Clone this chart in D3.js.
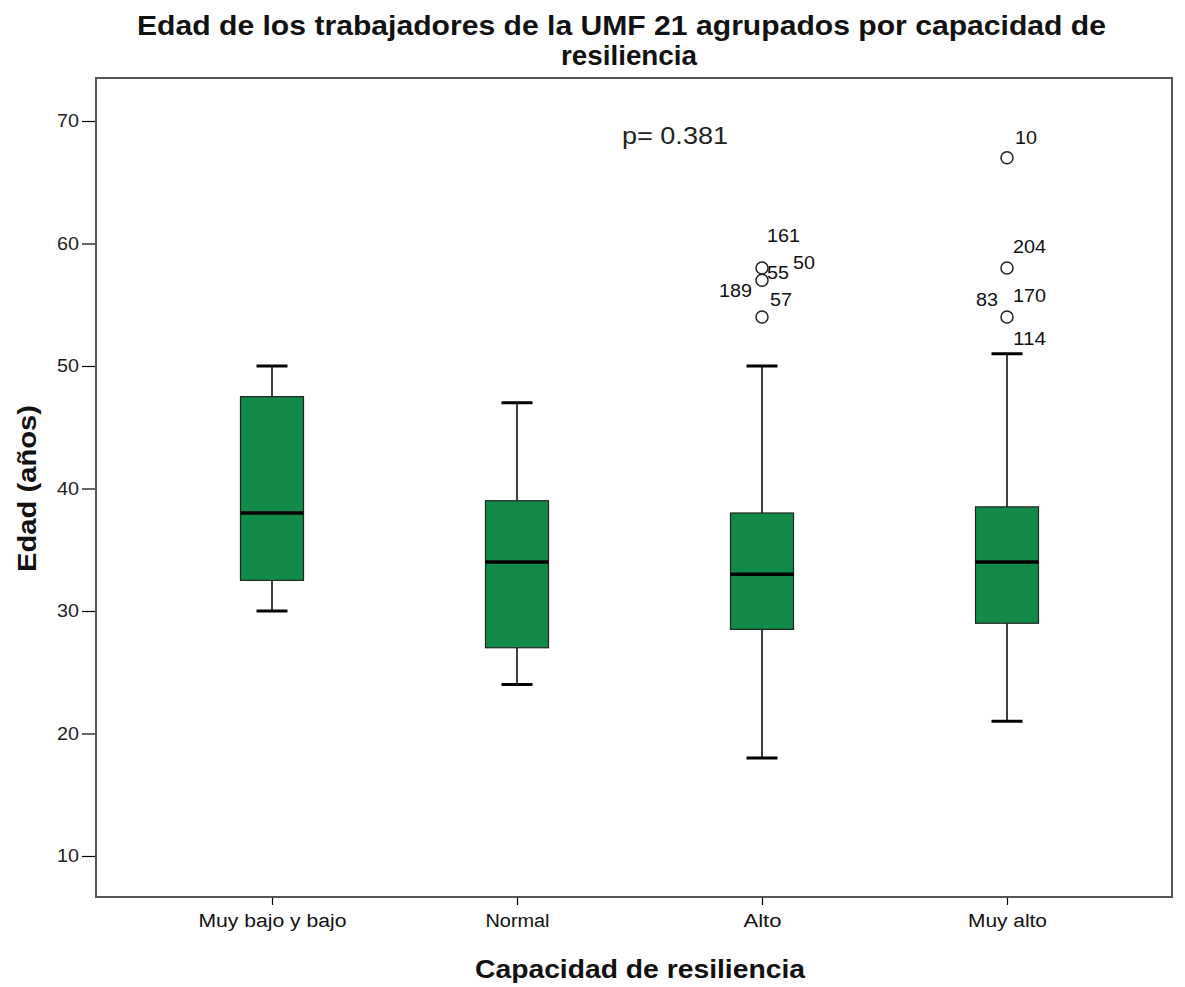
<!DOCTYPE html>
<html>
<head>
<meta charset="utf-8">
<script src="https://cdn.jsdelivr.net/npm/d3@7"></script>
<style>
  body { margin: 0; background: #fff; }
  text { font-family: "Liberation Sans", Arial, sans-serif; }
</style>
</head>
<body>
<div id="chart"></div>
<script>
// ---------------------------------------------------------------------------
// data
// ---------------------------------------------------------------------------

const categories = ["Muy bajo y bajo", "Normal", "Alto", "Muy alto"];

// five number summaries
const whiskerLow  = [30, 24, 18, 21];
const q1          = [32.5, 27, 28.5, 29];
const medians     = [38, 34, 33, 34];
const q3          = [47.5, 39, 38, 38.5];
const whiskerHigh = [50, 47, 50, 51];

// outliers: group index, value, case ids next to the circle
const outlierGroup  = [2, 2, 2, 3, 3, 3];
const outlierValue  = [58, 57, 54, 67, 58, 54];
const outlierLabels = [["161", "55"], ["189", "50"], ["57"], ["10"], ["204"], ["83", "170", "114"]];

const yTicks = [10, 20, 30, 40, 50, 60, 70];
const pText = "p= 0.381";

// label offsets relative to the circle (layout only)
const labelOffsets = {
  "161": [5, -33], "55": [5, 4], "50": [31, -18], "189": [-43, 10], "57": [8, -18],
  "10": [8, -21], "204": [6, -22], "83": [-31, -18], "170": [6, -22], "114": [6, 21]
};

// widths of the texts in the picture (the original font is wider than Arial)
const xLabelWidths = [148, 64, 38, 79];

// ---------------------------------------------------------------------------
// drawing
// ---------------------------------------------------------------------------

const width = 1185, height = 987;
const plot = { left: 96, right: 1172, top: 78, bottom: 897 };

const svg = d3.select("#chart").append("svg")
  .attr("width", width)
  .attr("height", height);

const x = d3.scalePoint()
  .domain(categories)
  .range([plot.left + 176, plot.right - 165]);

const y = d3.scaleLinear()
  .domain([10, 70])
  .range([856, 121]);

// title
const title = svg.append("g")
  .attr("font-size", 28)
  .attr("font-weight", "bold")
  .attr("fill", "#111");
title.append("text").attr("x", 137).attr("y", 35)
  .attr("textLength", 969).attr("lengthAdjust", "spacingAndGlyphs")
  .text("Edad de los trabajadores de la UMF 21 agrupados por capacidad de");
title.append("text").attr("x", 561).attr("y", 65)
  .attr("textLength", 136).attr("lengthAdjust", "spacingAndGlyphs")
  .text("resiliencia");

// y axis
const yAxis = svg.append("g")
  .attr("transform", `translate(${plot.left},0)`)
  .call(d3.axisLeft(y).tickValues(yTicks).tickSize(14).tickPadding(3));
yAxis.select(".domain").remove();
yAxis.selectAll("line").attr("stroke", "#000").attr("stroke-width", 1.2);
yAxis.selectAll("text")
  .attr("font-size", 18)
  .attr("fill", "#222")
  .attr("textLength", 22)
  .attr("lengthAdjust", "spacingAndGlyphs");

// x axis
const xAxis = svg.append("g")
  .attr("transform", `translate(0,${plot.bottom})`)
  .call(d3.axisBottom(x).tickSize(8).tickPadding(9));
xAxis.select(".domain").remove();
xAxis.selectAll("line").attr("stroke", "#000").attr("stroke-width", 1.2);
xAxis.selectAll("text")
  .attr("font-size", 18)
  .attr("fill", "#111")
  .attr("textLength", (d, i) => xLabelWidths[i])
  .attr("lengthAdjust", "spacingAndGlyphs");

// frame
svg.append("rect")
  .attr("x", plot.left)
  .attr("y", plot.top)
  .attr("width", plot.right - plot.left)
  .attr("height", plot.bottom - plot.top)
  .attr("fill", "none")
  .attr("stroke", "#555")
  .attr("stroke-width", 2);

// axis titles
svg.append("text")
  .attr("transform", `translate(36,572) rotate(-90)`)
  .attr("font-size", 25)
  .attr("font-weight", "bold")
  .attr("fill", "#111")
  .attr("textLength", 167)
  .attr("lengthAdjust", "spacingAndGlyphs")
  .text("Edad (años)");

svg.append("text")
  .attr("x", 475)
  .attr("y", 978)
  .attr("font-size", 26)
  .attr("font-weight", "bold")
  .attr("fill", "#111")
  .attr("textLength", 330)
  .attr("lengthAdjust", "spacingAndGlyphs")
  .text("Capacidad de resiliencia");

// boxes
const boxW = 63, capW = 31;
const boxes = svg.append("g")
  .selectAll("g")
  .data(categories)
  .join("g");

boxes.append("line")
  .attr("x1", d => x(d)).attr("x2", d => x(d))
  .attr("y1", (d, i) => y(whiskerHigh[i]))
  .attr("y2", (d, i) => y(whiskerLow[i]))
  .attr("stroke", "#000").attr("stroke-width", 1.5);

boxes.append("rect")
  .attr("x", d => x(d) - boxW / 2)
  .attr("width", boxW)
  .attr("y", (d, i) => y(q3[i]))
  .attr("height", (d, i) => y(q1[i]) - y(q3[i]))
  .attr("fill", "#128a48")
  .attr("stroke", "#222")
  .attr("stroke-width", 1.2);

boxes.append("line")
  .attr("x1", d => x(d) - boxW / 2).attr("x2", d => x(d) + boxW / 2)
  .attr("y1", (d, i) => y(medians[i])).attr("y2", (d, i) => y(medians[i]))
  .attr("stroke", "#000").attr("stroke-width", 3.5);

[whiskerHigh, whiskerLow].forEach(arr => {
  boxes.append("line")
    .attr("x1", d => x(d) - capW / 2).attr("x2", d => x(d) + capW / 2)
    .attr("y1", (d, i) => y(arr[i])).attr("y2", (d, i) => y(arr[i]))
    .attr("stroke", "#000").attr("stroke-width", 3);
});

// outliers
const outliers = outlierValue.map((v, i) => ({
  cx: x(categories[outlierGroup[i]]), cy: y(v), labels: outlierLabels[i]
}));

svg.append("g")
  .selectAll("circle")
  .data(outliers)
  .join("circle")
    .attr("cx", d => d.cx)
    .attr("cy", d => d.cy)
    .attr("r", 6)
    .attr("fill", "none")
    .attr("stroke", "#222")
    .attr("stroke-width", 1.5);

const labelData = outliers.flatMap(d => d.labels.map(l => ({ cx: d.cx, cy: d.cy, label: l })));
svg.append("g")
  .selectAll("text")
  .data(labelData)
  .join("text")
    .attr("x", d => d.cx + labelOffsets[d.label][0])
    .attr("y", d => d.cy + labelOffsets[d.label][1] + 7)
    .attr("font-size", 18)
    .attr("fill", "#111")
    .attr("textLength", d => d.label.length * 11)
    .attr("lengthAdjust", "spacingAndGlyphs")
    .text(d => d.label);

// p value annotation
svg.append("text")
  .attr("x", 622)
  .attr("y", 144)
  .attr("font-size", 23)
  .attr("fill", "#222")
  .attr("textLength", 106)
  .attr("lengthAdjust", "spacingAndGlyphs")
  .text(pText);
</script>
</body>
</html>
